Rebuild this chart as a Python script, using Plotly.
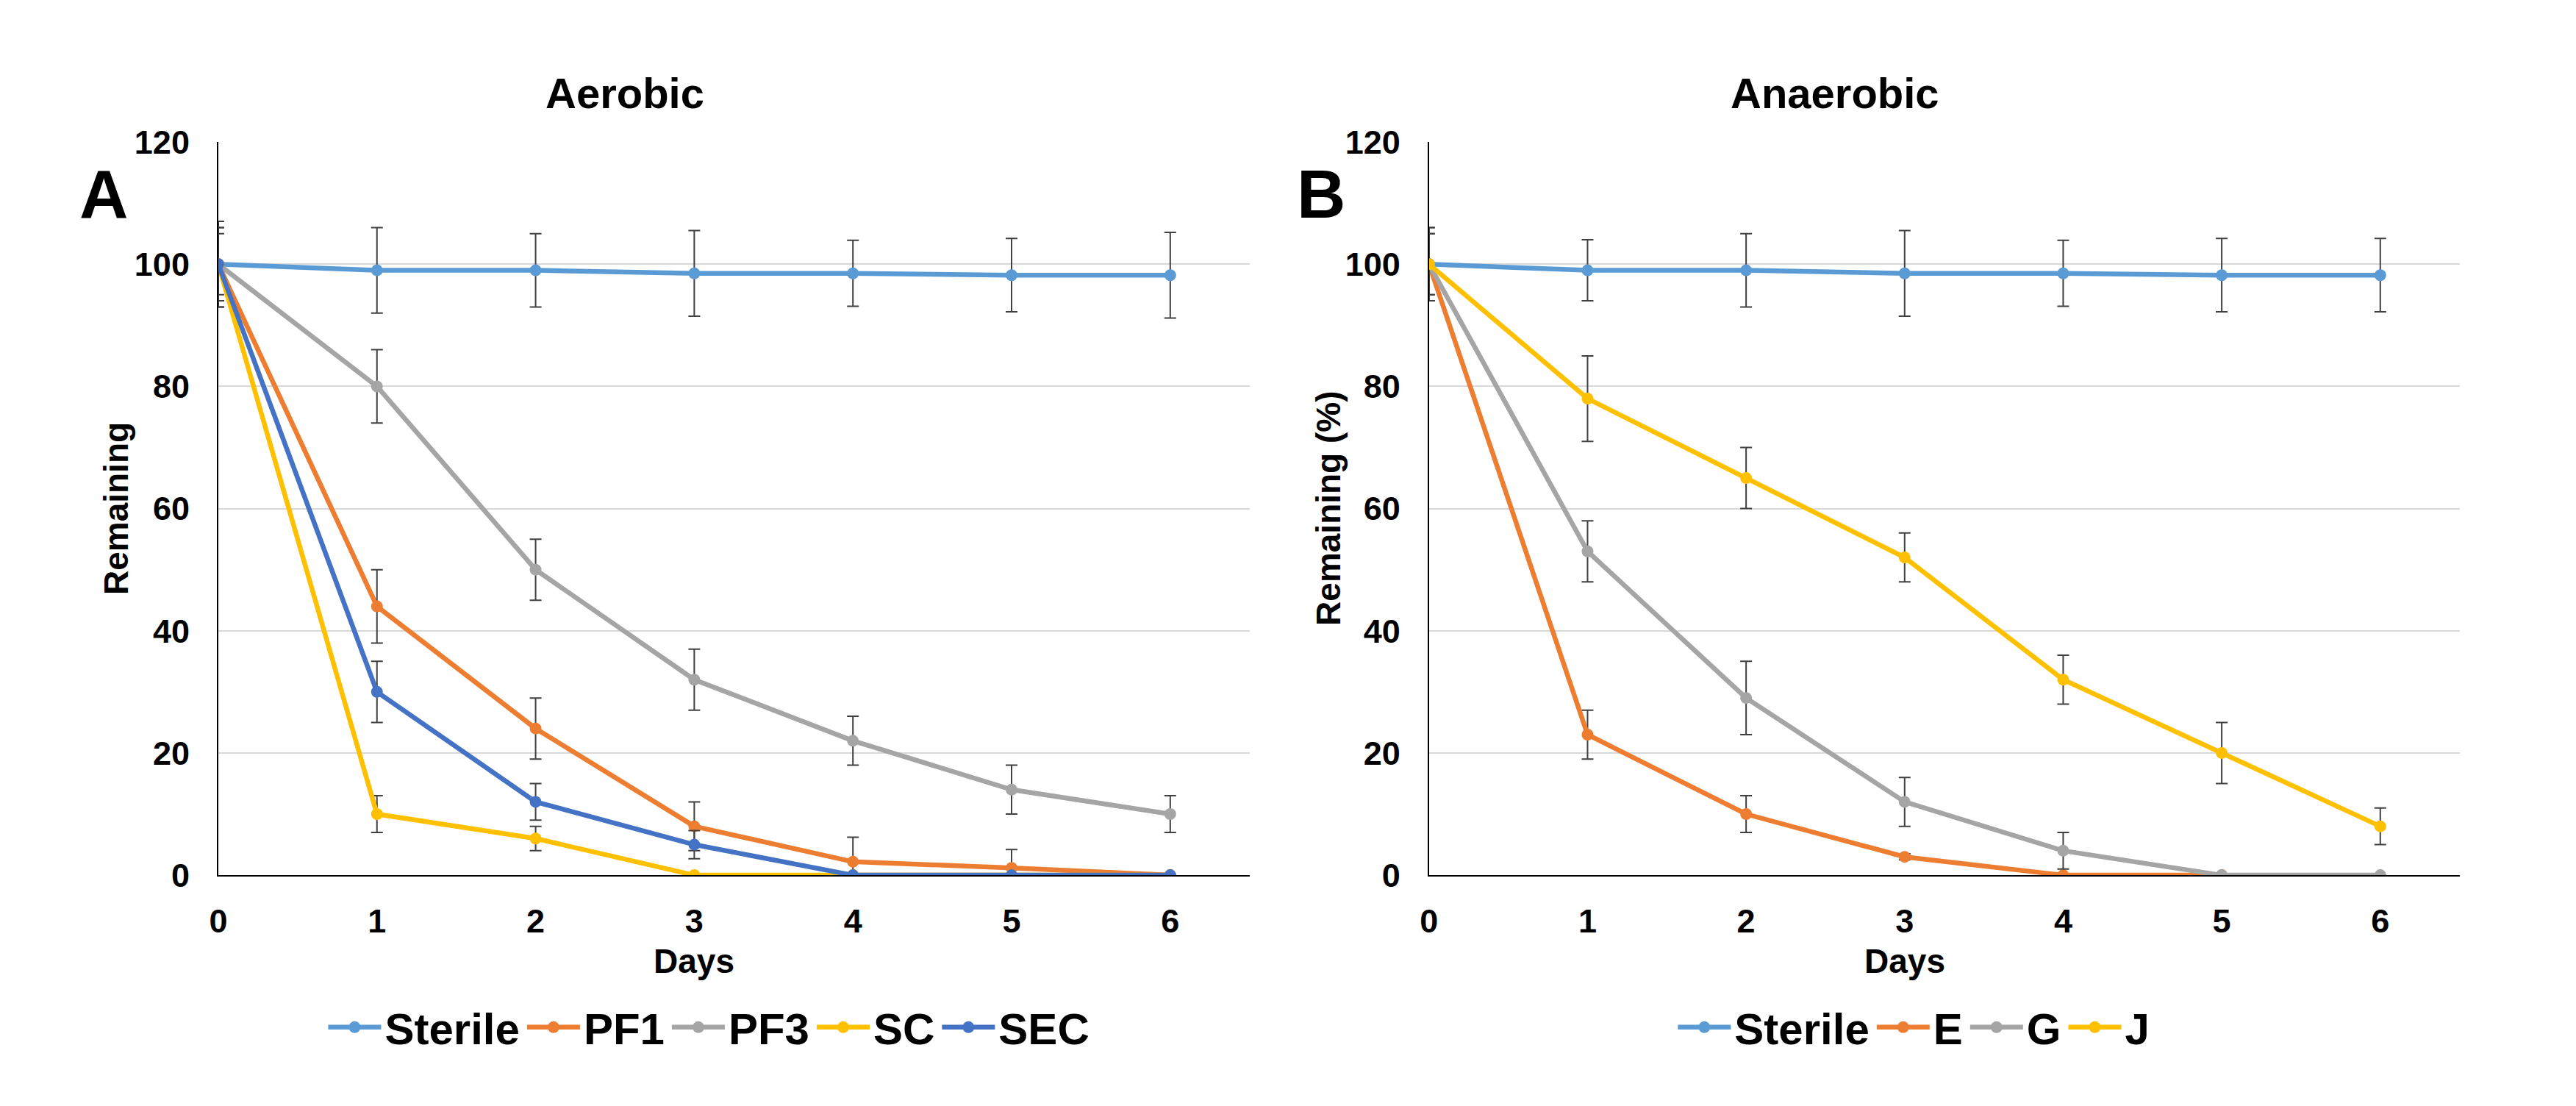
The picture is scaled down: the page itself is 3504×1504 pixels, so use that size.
import plotly.graph_objects as go

days = [0, 1, 2, 3, 4, 5, 6]

# Panel A: Aerobic
a_names = ["Sterile", "PF1", "PF3", "SC", "SEC"]
a_sterile = [100, 99, 99, 98.5, 98.5, 98.2, 98.2]
a_sterile_err = [5, 7, 6, 7, 5.4, 6, 7]
a_pf1 = [100, 44, 24, 8, 2.2, 1.2, 0]
a_pf1_err = [7, 6, 5, 4, 4, 3, None]
a_pf3 = [100, 80, 50, 32, 22, 14, 10]
a_pf3_err = [6, 6, 5, 5, 4, 4, 3]
a_sc = [100, 10, 6, 0, 0, 0, 0]
a_sc_err = [6, 3, 2, None, None, None, None]
a_sec = [100, 30, 12, 5, 0, 0, 0]
a_sec_err = [7, 5, 3, 2.3, None, None, None]

# Panel B: Anaerobic
b_names = ["Sterile", "E", "G", "J"]
b_sterile = [100, 99, 99, 98.5, 98.5, 98.2, 98.2]
b_sterile_err = [5, 5, 6, 7, 5.4, 6, 6]
b_e = [100, 23, 10, 3, 0, 0]
b_e_err = [6, 4, 3, 0.5, None, None]
b_g = [100, 53, 29, 12, 4, 0, 0]
b_g_err = [5, 5, 6, 4, 3, None, None]
b_j = [100, 78, 65, 52, 32, 20, 8]
b_j_err = [6, 7, 5, 4, 4, 5, 3]

colors_a = ["#5B9BD5", "#ED7D31", "#A5A5A5", "#FFC000", "#4472C4"]
colors_b = ["#5B9BD5", "#ED7D31", "#A5A5A5", "#FFC000"]

W, H = 3504, 1504
FONT = "Liberation Sans"

fig = go.Figure()

def add(vals, errs, name, color, xa, ya, legend):
    fig.add_trace(go.Scatter(
        x=days[:len(vals)], y=vals, name=name, mode="lines+markers",
        line=dict(color=color, width=6.5),
        marker=dict(color=color, size=16, symbol="circle"),
        error_y=dict(type="data", array=errs, visible=True, color="#404040",
                     thickness=2, width=8),
        xaxis=xa, yaxis=ya, legend=legend,
    ))

for v, e, n, c in zip([a_sterile, a_pf1, a_pf3, a_sc, a_sec],
                      [a_sterile_err, a_pf1_err, a_pf3_err, a_sc_err, a_sec_err],
                      a_names, colors_a):
    add(v, e, n, c, "x", "y", "legend")

for v, e, n, c in zip([b_sterile, b_e, b_g, b_j],
                      [b_sterile_err, b_e_err, b_g_err, b_j_err],
                      b_names, colors_b):
    add(v, e, n, c, "x2", "y2", "legend2")

tickfont = dict(family=FONT, size=45, color="black", weight="bold")
ydom = [1 - 1206 / H, 1 - 174 / H]

xcommon = dict(range=[0, 6.5], tickvals=days, showgrid=False, zeroline=False,
               showline=True, linecolor="#000000", linewidth=2,
               tickfont=tickfont, ticks="", ticklabelstandoff=22)
ycommon = dict(range=[0, 120], dtick=20, showgrid=True, gridcolor="#D9D9D9",
               gridwidth=2, zeroline=False, showline=True, linecolor="#000000",
               linewidth=2, tickfont=tickfont, ticks="", ticklabelstandoff=28,
               domain=ydom)

legfont = dict(family=FONT, size=60, color="black", weight="bold")

fig.update_layout(
    width=W, height=H,
    margin=dict(l=0, r=0, t=0, b=0),
    paper_bgcolor="white", plot_bgcolor="white",
    showlegend=True,
    xaxis=dict(domain=[285 / W, 1693 / W], anchor="y", **xcommon),
    yaxis=dict(anchor="x", **ycommon),
    xaxis2=dict(domain=[1938 / W, 3345 / W], anchor="y2", **xcommon),
    yaxis2=dict(anchor="x2", **ycommon),
    legend=dict(orientation="h", x=955 / W, y=1 - 1420 / H, xanchor="center",
                yanchor="middle", font=legfont, bgcolor="rgba(0,0,0,0)",
                itemwidth=72),
    legend2=dict(orientation="h", x=2600 / W, y=1 - 1420 / H, xanchor="center",
                 yanchor="middle", font=legfont, bgcolor="rgba(0,0,0,0)",
                 itemwidth=72),
)

def ann(text, x, y, size, angle=0, xref="paper"):
    fig.add_annotation(text=text, x=x, y=y, xref=xref, yref="paper",
                       showarrow=False, textangle=angle,
                       xanchor="center", yanchor="middle",
                       font=dict(family=FONT, size=size, color="black", weight="bold"))

ann("Aerobic", 840 / W, 1 - 105 / H, 58)
ann("Anaerobic", 2492 / W, 1 - 105 / H, 58)
ann("A", 128 / W, 1 - 247 / H, 92)
ann("B", 1791 / W, 1 - 247 / H, 92)
ann("Remaining", 145 / W, 1 - 690 / H, 46, angle=-90)
ann("Remaining (%)", 1800 / W, 1 - 690 / H, 46, angle=-90)
ann("Days", 3, 1 - 1327 / H, 46, xref="x")
ann("Days", 3, 1 - 1327 / H, 46, xref="x2")

fig.write_html("out.html", config={"displayModeBar": False},
               post_script="document.body.style.margin='0';document.body.style.overflow='hidden';")
